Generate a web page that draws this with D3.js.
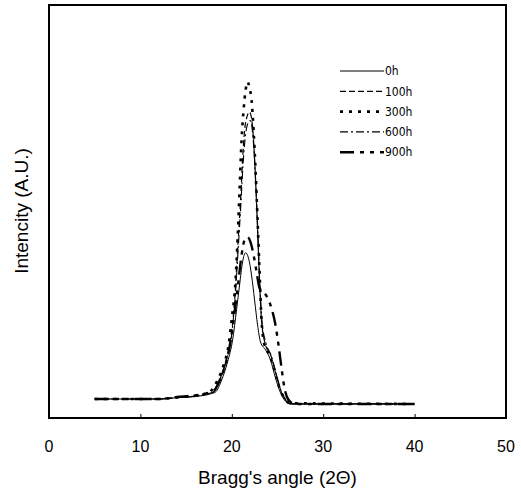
<!DOCTYPE html>
<html>
<head>
<meta charset="utf-8">
<script src="https://cdn.jsdelivr.net/npm/d3@7"></script>
<style>
  body { margin: 0; background: #fff; }
  text { font-family: "Liberation Sans", Arial, sans-serif; fill: #000; }
  .legend text { font-family: "Liberation Sans Narrow", "DejaVu Sans Condensed", sans-serif; }
</style>
</head>
<body>
<div id="chart-area"></div>
<script>
// [2theta, intensity] pairs
const series0h = [[5,4.6],[12,4.6],[14,4.9],[16,5.2],[17.6,5.8],[18.23,6.3],[18.89,9.2],[19.54,13.6],[20.09,18.9],[20.52,26.2],[20.85,32.2],[21.18,37.8],[21.51,40],[21.83,38.7],[22.16,34.6],[22.49,28.6],[22.82,22.5],[23.14,18.4],[23.69,16.5],[24.24,14],[24.78,9.7],[25.33,6.1],[25.87,4.1],[26.53,3.4],[40,3.4]];
const series100h = [[5,4.6],[12,4.6],[14,5.0],[16,5.3],[17.5,6.0],[18.01,6.3],[18.67,9.2],[19.32,13.6],[19.87,18.9],[20.31,28.6],[20.63,40.7],[20.96,52.8],[21.18,62.5],[21.4,69.7],[21.62,72.6],[21.94,74.1],[22.16,72.6],[22.38,67.3],[22.6,57.6],[22.82,45.5],[23.03,33.4],[23.25,23.7],[23.69,17.7],[24.24,15.3],[24.78,11.1],[25.33,6.8],[25.87,4.4],[26.42,3.4],[40,3.4]];
const series300h = [[5,4.6],[12,4.6],[14,5.0],[16,5.4],[17.5,6.2],[18.45,9.2],[19.1,12.8],[19.65,17.7],[19.98,23.7],[20.41,33.4],[20.63,43.1],[20.85,55.2],[21.07,67.3],[21.29,74.6],[21.51,79.4],[21.72,81.4],[21.94,79.9],[22.16,77],[22.38,69.7],[22.6,60],[22.82,47.9],[23.03,35.8],[23.25,23.7],[23.58,17.7],[24.13,15.3],[24.67,11.6],[25.22,7.3],[25.76,4.8],[26.31,3.6],[40,3.4]];
const series600h = [[5,4.6],[12,4.6],[14,5.0],[16,5.3],[17.6,6.0],[18.1,6.5],[18.75,9.4],[19.4,13.8],[19.95,19.5],[20.36,29],[20.7,41],[21.0,52],[21.22,61],[21.45,67.5],[21.7,71],[22.0,72],[22.2,70.5],[22.42,65],[22.64,56],[22.86,44.5],[23.06,33],[23.3,23.5],[23.75,18],[24.3,15.2],[24.85,10.8],[25.4,6.6],[25.95,4.3],[26.5,3.4],[40,3.4]];
const series900h = [[5,4.6],[12,4.6],[14,5.1],[16,5.5],[17.6,6.2],[18.12,6.8],[18.78,9.7],[19.43,14],[19.98,20.1],[20.41,27.4],[20.74,33.4],[21.07,39.5],[21.4,43.1],[21.72,43.8],[22.05,42.6],[22.38,39.5],[22.71,35.4],[23.03,31.5],[23.47,30.5],[23.91,29.1],[24.34,26.6],[24.78,22.5],[25.11,17.7],[25.44,12.1],[25.76,7.3],[26.2,4.4],[26.86,3.4],[40,3.4]];

const seriesNames = ["0h", "100h", "300h", "600h", "900h"];
const xTicks = [0, 10, 20, 30, 40, 50];

const allSeries = [series0h, series100h, series300h, series600h, series900h];
const styles = [
  { w: 1, dash: null },
  { w: 1.2, dash: "6,3" },
  { w: 2.6, dash: "3,6" },
  { w: 1.1, dash: "8,3,2,3" },
  { w: 2.4, dash: "14,6,4,6,4,6" }
];

const width = 521;
const height = 491;
const margin = { left: 49, right: 506, top: 5, bottom: 418 };

const svg = d3.select("#chart-area")
  .append("svg")
    .attr("width", width)
    .attr("height", height);

const x = d3.scaleLinear().domain([0, 50]).range([margin.left, margin.right]);
const y = d3.scaleLinear().domain([0, 100]).range([margin.bottom, margin.top]);

// frame
svg.append("rect")
  .attr("x", margin.left)
  .attr("y", margin.top)
  .attr("width", margin.right - margin.left)
  .attr("height", margin.bottom - margin.top)
  .attr("fill", "none")
  .attr("stroke", "#000")
  .attr("stroke-width", 2);

// inside ticks on the bottom edge
const xAxisCall = d3.axisTop(x)
  .tickValues(xTicks.filter(d => d > 0 && d < 50))
  .tickSize(4)
  .tickFormat("");

svg.append("g")
  .attr("class", "x-axis")
  .attr("transform", `translate(0, ${margin.bottom})`)
  .call(xAxisCall)
  .call(g => g.select(".domain").remove());

svg.append("g")
  .selectAll("text")
  .data(xTicks)
  .enter()
  .append("text")
    .attr("x", d => x(d))
    .attr("y", 452)
    .attr("text-anchor", "middle")
    .attr("font-size", "16px")
    .text(d => d);

const line = d3.line()
  .x(d => x(d[0]))
  .y(d => y(d[1]))
  .curve(d3.curveMonotoneX);

svg.append("g")
  .selectAll("path")
  .data(allSeries)
  .enter()
  .append("path")
    .attr("d", line)
    .attr("fill", "none")
    .attr("stroke", "#000")
    .attr("stroke-width", (d, i) => styles[i].w)
    .attr("stroke-dasharray", (d, i) => styles[i].dash);

// legend
const legend = svg.append("g").attr("class", "legend");
seriesNames.forEach((name, i) => {
  const ly = 71 + i * 20.3;
  legend.append("line")
    .attr("x1", 340)
    .attr("x2", 384)
    .attr("y1", ly)
    .attr("y2", ly)
    .attr("stroke", "#000")
    .attr("stroke-width", styles[i].w)
    .attr("stroke-dasharray", styles[i].dash);
  legend.append("text")
    .attr("x", 385)
    .attr("y", ly)
    .attr("dy", "0.35em")
    .attr("font-size", "12px")
    .text(name);
});

svg.append("text")
  .attr("x", (margin.left + margin.right) / 2)
  .attr("y", 484)
  .attr("text-anchor", "middle")
  .attr("font-size", "19px")
  .text("Bragg's angle (2\u0398)");

svg.append("text")
  .attr("transform", `translate(28, 211) rotate(-90)`)
  .attr("text-anchor", "middle")
  .attr("font-size", "19px")
  .text("Intencity (A.U.)");
</script>
</body>
</html>
